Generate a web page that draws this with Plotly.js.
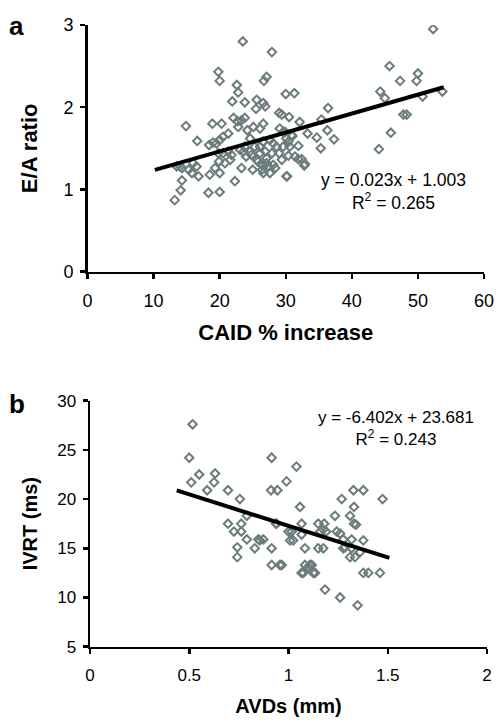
<!DOCTYPE html>
<html>
<head>
<meta charset="utf-8">
<script src="https://cdn.plot.ly/plotly-3.0.1.min.js"></script>
<style>html,body{margin:0;padding:0;background:#fff}#chart{width:500px;height:728px}</style>
</head>
<body>
<div id="chart"></div>
<script>
// Panel a: CAID % increase vs E/A ratio
const caidX = [23.5,27.9,52.3,19.8,20.0,22.6,22.8,21.9,23.8,27.1,26.7,45.7,50.0,49.8,47.3,44.3,45.0,53.7,50.7,47.8,48.3,45.9,44.1,30.0,31.3,25.6,25.5,26.6,26.9,36.4,29.0,29.4,30.5,22.1,23.8,22.7,23.3,25.1,26.1,26.6,32.1,35.4,36.3,33.3,34.7,37.3,35.3,31.9,30.4,31.9,32.9,29.1,29.6,30.9,28.1,30.1,30.6,29.6,27.9,29.0,29.4,24.6,25.3,26.6,26.9,23.6,24.8,25.6,26.4,27.1,28.1,14.9,18.9,20.3,22.8,16.6,18.4,19.0,20.0,20.5,21.3,24.2,14.0,15.3,16.0,16.8,15.8,14.3,14.1,13.2,18.3,20.0,18.5,20.0,19.3,19.9,20.8,21.6,22.3,19.8,20.5,21.3,21.8,23.3,23.1,24.6,24.0,25.0,25.8,26.4,26.6,27.4,27.6,28.4,27.1,26.1,26.1,26.6,27.6,28.6,30.1,29.9,31.0,30.4,31.4,32.4,32.8,30.2,13.5,14.3,16.5,19.5,23.8];
const eaRatio = [2.80,2.67,2.95,2.43,2.32,2.27,2.18,2.07,2.06,2.37,2.32,2.50,2.41,2.32,2.32,2.19,2.11,2.19,2.13,1.91,1.91,1.69,1.49,2.16,2.17,2.09,1.98,2.05,2.01,1.99,1.93,1.91,1.88,1.87,1.87,1.83,1.84,1.76,1.74,1.80,1.82,1.85,1.72,1.68,1.63,1.61,1.50,1.53,1.41,1.37,1.31,1.74,1.70,1.66,1.56,1.62,1.52,1.52,1.44,1.44,1.36,1.62,1.52,1.58,1.46,1.46,1.42,1.36,1.30,1.32,1.30,1.77,1.80,1.80,1.76,1.59,1.54,1.57,1.60,1.64,1.68,1.72,1.28,1.24,1.32,1.16,1.20,1.11,0.99,0.87,0.96,0.97,1.18,1.20,1.26,1.34,1.32,1.36,1.10,1.44,1.44,1.46,1.42,1.26,1.48,1.46,1.40,1.24,1.34,1.24,1.20,1.28,1.20,1.26,1.38,1.44,1.52,1.58,1.60,1.52,1.16,1.70,1.65,1.58,1.40,1.37,1.29,1.16,1.28,1.26,1.28,1.56,1.52];
const fitA = {slope: 0.023, intercept: 1.003, r2: 0.265, xFrom: 10.2, xTo: 53.9};

// Panel b: AVDs vs IVRT
const avdX = [0.517,0.50,0.55,0.51,0.63,0.625,0.59,0.695,0.755,0.695,0.762,0.725,0.762,0.742,0.742,0.79,0.79,0.915,0.912,0.944,0.99,1.04,0.848,0.873,0.83,0.915,0.937,1.0,1.016,1.327,1.377,1.474,1.268,1.058,1.33,1.234,1.31,1.33,1.34,1.066,1.15,1.18,1.066,1.16,1.19,1.243,1.26,1.008,1.024,0.856,1.083,1.15,1.175,1.276,1.318,1.377,1.36,1.31,1.335,0.915,0.957,0.966,1.066,1.1,1.134,1.108,1.377,1.402,1.461,1.184,1.26,1.348,1.175,1.276,1.318,1.285,1.083,1.117,1.075,1.125,0.94];
const ivrt = [27.6,24.2,22.5,21.7,22.6,21.7,20.9,20.9,20.0,17.5,17.5,16.7,16.7,15.1,14.1,15.9,18.3,24.2,20.9,20.9,21.8,23.3,15.9,15.9,15.0,15.0,17.5,16.7,16.7,20.9,20.9,20.0,20.0,19.2,19.2,18.3,18.3,17.5,17.4,17.5,17.5,17.5,16.4,16.7,16.7,16.7,16.5,15.8,15.8,15.8,15.0,15.0,15.0,15.0,15.0,15.8,14.6,14.1,14.1,13.3,13.3,13.3,12.5,13.1,12.5,13.3,12.5,12.5,12.5,10.8,10.0,9.2,16.9,15.9,15.9,15.1,13.3,13.3,12.5,12.5,17.5];
const fitB = {slope: -6.402, intercept: 23.681, r2: 0.243, xFrom: 0.437, xTo: 1.508};

const xTicksA = [0,10,20,30,40,50,60];
const yTicksA = [0,1,2,3];
const xTicksB = [0,0.5,1,1.5,2];
const yTicksB = [5,10,15,20,25,30];

const markerColor = 'rgb(108,124,124)';
const FONT = 'Liberation Sans, Arial, sans-serif';

function fitLine(f, xa, ya) {
  const xs = [f.xFrom, f.xTo];
  return {x: xs, y: xs.map(v => f.slope * v + f.intercept), mode: 'lines', type: 'scatter',
    line: {color: '#000', width: 4}, xaxis: xa, yaxis: ya, hoverinfo: 'skip'};
}
function eqText(f) {
  const s = f.intercept >= 0 ? ' + ' : ' - ';
  return 'y = ' + f.slope.toFixed(3) + 'x' + s + Math.abs(f.intercept).toFixed(3);
}

const traces = [
  {x: caidX, y: eaRatio, mode: 'markers', type: 'scatter', xaxis: 'x', yaxis: 'y',
   marker: {symbol: 'diamond-open', size: 6.5, color: markerColor, line: {width: 2, color: markerColor}}},
  fitLine(fitA, 'x', 'y'),
  {x: avdX, y: ivrt, mode: 'markers', type: 'scatter', xaxis: 'x2', yaxis: 'y2',
   marker: {symbol: 'diamond-open', size: 6.5, color: markerColor, line: {width: 2, color: markerColor}}},
  fitLine(fitB, 'x2', 'y2')
];

const axBase = {showgrid: false, zeroline: false, showline: true, linecolor: '#000', linewidth: 2.5,
  ticks: 'outside', ticklen: 5, tickwidth: 2.5, tickcolor: '#000', mirror: false,
  tickfont: {family: FONT, size: 18, color: '#000'}};
const titleFontA = {family: FONT, size: 22, color: '#000', weight: 'bold'};
const titleFontB = {family: FONT, size: 20, color: '#000', weight: 'bold'};

const layout = {
  width: 500, height: 728, margin: {l: 0, r: 0, t: 0, b: 0},
  paper_bgcolor: '#fff', plot_bgcolor: '#fff', showlegend: false,
  font: {family: FONT, color: '#000'},
  xaxis: Object.assign({}, axBase, {domain: [0.175, 0.968], range: [0, 60], tickvals: xTicksA,
    anchor: 'y', ticklabelstandoff: 6,
    title: {text: '<b>CAID % increase</b>', font: titleFontA, standoff: 15}}),
  yaxis: Object.assign({}, axBase, {domain: [0.6268, 0.9657], range: [0, 3], tickvals: yTicksA,
    anchor: 'x', ticklabelstandoff: 3,
    title: {text: '<b>E/A ratio</b>', font: titleFontA, standoff: 20}}),
  xaxis2: Object.assign({}, axBase, {domain: [0.18, 0.974], range: [0, 2], tickvals: xTicksB,
    ticktext: xTicksB.map(String), anchor: 'y2', ticklabelstandoff: 6,
    tickfont: {family: FONT, size: 17, color: '#000'},
    title: {text: '<b>AVDs (mm)</b>', font: titleFontB, standoff: 16}}),
  yaxis2: Object.assign({}, axBase, {domain: [0.1117, 0.4496], range: [5, 30], tickvals: yTicksB,
    anchor: 'x2', ticklabelstandoff: 3, tickfont: {family: FONT, size: 17, color: '#000'},
    title: {text: '<b>IVRT (ms)</b>', font: titleFontB, standoff: 14}}),
  annotations: [
    {text: '<b>a</b>', xref: 'paper', yref: 'paper', x: 0.014, y: 0.988, xanchor: 'left', yanchor: 'top',
     showarrow: false, font: {family: FONT, size: 26, color: '#000'}},
    {text: '<b>b</b>', xref: 'paper', yref: 'paper', x: 0.014, y: 0.4685, xanchor: 'left', yanchor: 'top',
     showarrow: false, font: {family: FONT, size: 26, color: '#000'}},
    {text: eqText(fitA) + '<br>R<sup>2</sup> = ' + fitA.r2.toFixed(3), xref: 'x', yref: 'y',
     x: 46.3, y: 0.97, xanchor: 'center', yanchor: 'middle', showarrow: false, align: 'center',
     font: {family: FONT, size: 17.5, color: '#000'}},
    {text: eqText(fitB) + '<br>R<sup>2</sup> = ' + fitB.r2.toFixed(3), xref: 'x2', yref: 'y2',
     x: 1.54, y: 27.2, xanchor: 'center', yanchor: 'middle', showarrow: false, align: 'center',
     font: {family: FONT, size: 17, color: '#000'}}
  ]
};

Plotly.newPlot('chart', traces, layout, {staticPlot: true, displayModeBar: false});
</script>
</body>
</html>
